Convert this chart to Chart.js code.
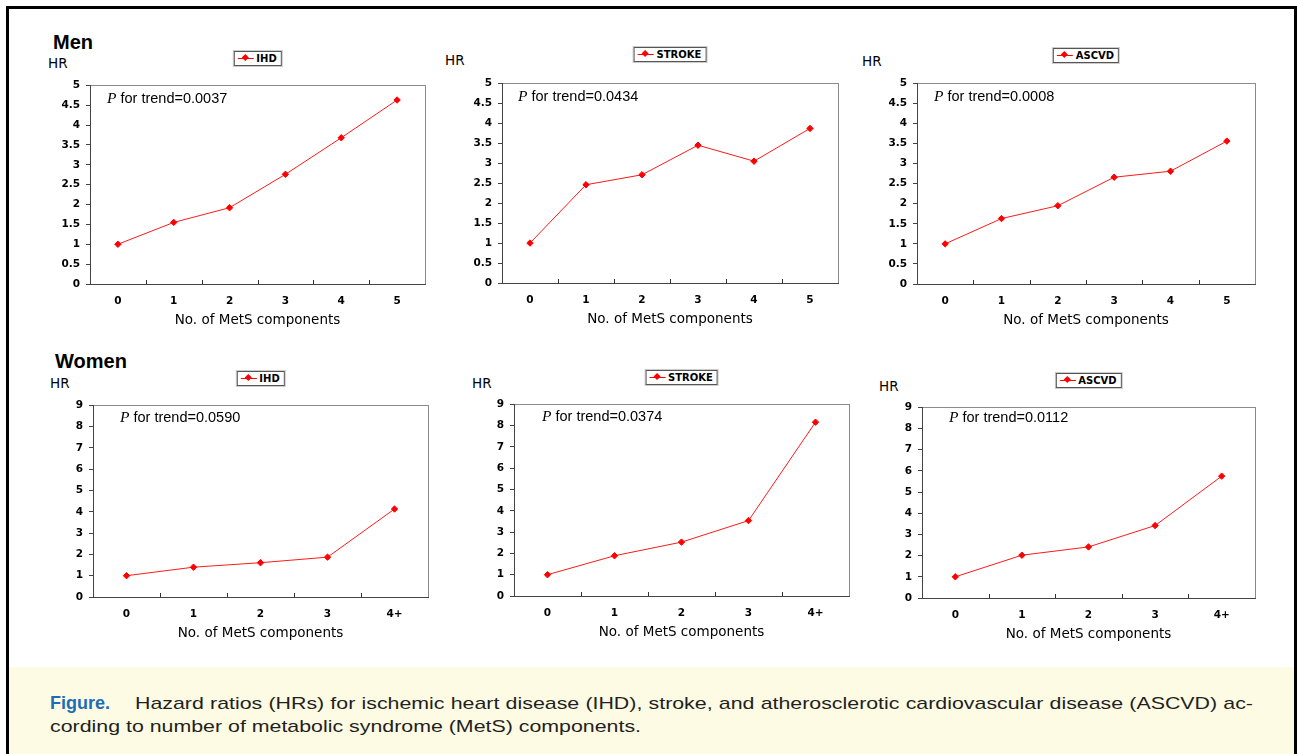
<!DOCTYPE html>
<html>
<head>
<meta charset="utf-8">
<script src="https://cdn.jsdelivr.net/npm/chart.js@4.4.0/dist/chart.umd.min.js"></script>
<style>
    body { margin: 0; width: 1297px; height: 754px; position: relative; overflow: hidden; background: #fff; font-family: Arial, "Liberation Sans", sans-serif; }
    .frame { position: absolute; left: 6px; top: 6px; width: 1291px; height: 800px; border: 3px solid #000; box-sizing: border-box; }
    .caption { position: absolute; left: 9px; top: 667px; width: 1285px; height: 90px; background: #fefbe5; }
    .abs { position: absolute; white-space: nowrap; }
    .group { font-weight: bold; font-size: 20px; color: #000; }
    .hr { font-family: "DejaVu Sans", Verdana, sans-serif; font-size: 13.5px; color: #000; line-height: 14px; }
    .ptrend { font-family: "Liberation Sans", Arial, sans-serif; font-size: 14.5px; color: #000; line-height: 16px; }
    .ptrend i { font-family: "Liberation Serif", "Times New Roman", serif; font-size: 15.5px; }
    .legend { height: 13px; border: 1px solid #555; box-shadow: 0 0 0 1px #ccc; padding: 0 4px 0 3px; font-family: "DejaVu Sans", Verdana, sans-serif; font-weight: bold; font-size: 10px; line-height: 13px; background: #fff; transform: translateX(-50%); }
    .legend .mk { display: inline-block; position: relative; width: 16px; height: 1px; background: #ff0000; vertical-align: middle; margin-right: 3px; top: -1px; }
    .legend .mk::after { content: ""; position: absolute; left: 5px; top: -3px; width: 5px; height: 5px; background: #ff0000; transform: rotate(45deg); }
    #capbox { position: absolute; left: 50px; top: 692px; transform-origin: 0 0; }
    .cap { font-size: 17px; line-height: 23px; color: #231f20; white-space: nowrap; }
    #figlabel { display: inline-block; font-weight: bold; color: #1d6db6; font-size: 18px; transform-origin: 0 50%; }
    #cap1 { position: absolute; top: 0; text-align: justify; text-align-last: justify; }
</style>
</head>
<body>
<div class="frame"></div>
<div class="caption"></div>
<div class="abs group" style="left:53px; top:31px;">Men</div>
<div class="abs group" style="left:55px; top:350px;">Women</div>
<div id="capbox">
    <div class="cap" style="position:relative; height:23px;"><span id="figlabel">Figure.</span><span id="cap1">Hazard ratios (HRs) for ischemic heart disease (IHD), stroke, and atherosclerotic cardiovascular disease (ASCVD) ac-</span></div>
    <div class="cap"><span id="cap2">cording to number of metabolic syndrome (MetS) components.</span></div>
</div>

<script>
    // categories
    const menLabels = ['0', '1', '2', '3', '4', '5'];
    const womenLabels = ['0', '1', '2', '3', '4+'];

    // hazard ratios
    const menIHD = [1.0, 1.55, 1.92, 2.76, 3.68, 4.63];
    const menStroke = [1.0, 2.46, 2.71, 3.45, 3.05, 3.87];
    const menASCVD = [1.0, 1.63, 1.95, 2.66, 2.81, 3.56];
    const womenIHD = [1.0, 1.40, 1.61, 1.87, 4.13];
    const womenStroke = [1.0, 1.89, 2.53, 3.54, 8.16];
    const womenASCVD = [1.0, 2.02, 2.41, 3.42, 5.75];

    // P for trend values
    const menPTrend = ['0.0037', '0.0434', '0.0008'];
    const womenPTrend = ['0.0590', '0.0374', '0.0112'];

    // y-axis ranges
    const menYMax = 5, menYStep = 0.5;
    const womenYMax = 9, womenYStep = 1;

    // caption is set in a stretched face in the original: scale it to the same width
    (function fitCaption() {
        const box = document.getElementById('capbox');
        const s = 591 / document.getElementById('cap2').getBoundingClientRect().width;
        const fig = document.getElementById('figlabel');
        const fw = fig.getBoundingClientRect().width;
        fig.style.transform = 'scaleX(' + ((60 / s) / fw) + ')';
        const cap1 = document.getElementById('cap1');
        cap1.style.left = (85 / s) + 'px';
        cap1.style.width = (1118 / s) + 'px';
        cap1.style.display = 'block';
        box.style.transform = 'scaleX(' + s + ')';
    })();

    // plot areas (left, right, top, bottom) and text offsets
    const panels = [
        { labels: menLabels, values: menIHD, name: 'IHD', p: menPTrend[0], yMax: menYMax, yStep: menYStep, L: 90, R: 425, T: 79, B: 284, hrX: 48, hrY: 56, pX: 17, pY: 11, legTop: 51 },
        { labels: menLabels, values: menStroke, name: 'STROKE', p: menPTrend[1], yMax: menYMax, yStep: menYStep, L: 502, R: 838, T: 77, B: 283, hrX: 445, hrY: 53, pX: 16, pY: 11, legTop: 47 },
        { labels: menLabels, values: menASCVD, name: 'ASCVD', p: menPTrend[2], yMax: menYMax, yStep: menYStep, L: 917, R: 1255, T: 77, B: 284, hrX: 862, hrY: 54, pX: 17, pY: 11, legTop: 48 },
        { labels: womenLabels, values: womenIHD, name: 'IHD', p: womenPTrend[0], yMax: womenYMax, yStep: womenYStep, L: 93, R: 428, T: 399, B: 597, hrX: 50, hrY: 376, pX: 27, pY: 10, legTop: 371 },
        { labels: womenLabels, values: womenStroke, name: 'STROKE', p: womenPTrend[1], yMax: womenYMax, yStep: womenYStep, L: 514, R: 849, T: 398, B: 596, hrX: 472, hrY: 376, pX: 28, pY: 10, legTop: 370 },
        { labels: womenLabels, values: womenASCVD, name: 'ASCVD', p: womenPTrend[2], yMax: womenYMax, yStep: womenYStep, L: 922, R: 1255, T: 401, B: 598, hrX: 879, hrY: 379, pX: 27, pY: 8, legTop: 373 }
    ];

    const tickFont = { family: 'DejaVu Sans', weight: 'bold', size: 10.5 };

    // plot frame and inward tick marks between categories
    const framePlugin = {
        id: 'frame',
        beforeDraw(chart) {
            const ctx = chart.ctx;
            const a = chart.chartArea;
            ctx.save();
            ctx.strokeStyle = '#8a8a8a';
            ctx.lineWidth = 1;
            ctx.strokeRect(Math.round(a.left) + 0.5, Math.round(a.top) + 0.5, Math.round(a.right - a.left), Math.round(a.bottom - a.top));
            ctx.restore();
        },
        afterDraw(chart) {
            const ctx = chart.ctx;
            const x = chart.scales.x;
            const bottom = Math.round(chart.chartArea.bottom);
            ctx.save();
            ctx.strokeStyle = '#333';
            ctx.lineWidth = 1;
            for (let i = 0; i < x.ticks.length - 1; i++) {
                const px = Math.round(x.getPixelForValue(i + 0.5)) + 0.5;
                ctx.beginPath();
                ctx.moveTo(px, bottom);
                ctx.lineTo(px, bottom - 4);
                ctx.stroke();
            }
            ctx.restore();
        }
    };

    panels.forEach(function(p) {
        const canvas = document.createElement('canvas');
        const w = p.R - p.L + 46;
        const h = p.B - p.T + 56;
        canvas.width = w;
        canvas.height = h;
        canvas.style.cssText = 'position:absolute;left:' + (p.L - 40) + 'px;top:' + (p.T - 6) + 'px;width:' + w + 'px;height:' + h + 'px;';
        document.body.appendChild(canvas);

        const hr = document.createElement('div');
        hr.className = 'abs hr';
        hr.style.left = p.hrX + 'px';
        hr.style.top = p.hrY + 'px';
        hr.textContent = 'HR';
        document.body.appendChild(hr);

        const leg = document.createElement('div');
        leg.className = 'abs legend';
        leg.style.left = ((p.L + p.R) / 2) + 'px';
        leg.style.top = p.legTop + 'px';
        leg.innerHTML = '<span class="mk"></span>' + p.name;
        document.body.appendChild(leg);

        const pt = document.createElement('div');
        pt.className = 'abs ptrend';
        pt.style.left = (p.L + p.pX) + 'px';
        pt.style.top = (p.T + p.pY) + 'px';
        pt.innerHTML = '<i>P</i> for trend=' + p.p;
        document.body.appendChild(pt);

        new Chart(canvas.getContext('2d'), {
            type: 'line',
            data: {
                labels: p.labels,
                datasets: [{
                    label: p.name,
                    data: p.values,
                    borderColor: '#ff1a1a',
                    backgroundColor: '#ff0000',
                    borderWidth: 1,
                    pointStyle: 'rectRot',
                    pointRadius: 3.2,
                    pointBorderWidth: 1,
                    pointBorderColor: '#ff0000',
                    tension: 0
                }]
            },
            options: {
                responsive: false,
                animation: false,
                layout: { padding: { top: 6, right: 6, left: 0, bottom: 0 } },
                plugins: { legend: { display: false }, tooltip: { enabled: false } },
                scales: {
                    x: {
                        offset: true,
                        grid: { display: false },
                        border: { display: true, color: '#444', width: 1 },
                        ticks: { color: '#000', font: tickFont, padding: 3, maxRotation: 0 },
                        title: {
                            display: true,
                            text: 'No. of MetS components',
                            color: '#000',
                            font: { family: 'DejaVu Sans', size: 13.5 },
                            padding: { top: 0, bottom: 5 }
                        },
                        afterFit: function(s) { s.height = 50; }
                    },
                    y: {
                        min: 0,
                        max: p.yMax,
                        grid: { drawOnChartArea: false, drawTicks: true, tickLength: 4, color: '#444' },
                        border: { display: true, color: '#444', width: 1 },
                        ticks: {
                            stepSize: p.yStep,
                            color: '#000',
                            font: tickFont,
                            padding: 6,
                            callback: function(v) { return String(v); }
                        },
                        afterFit: function(s) { s.width = 40; }
                    }
                }
            },
            plugins: [framePlugin]
        });
    });
</script>
</body>
</html>
